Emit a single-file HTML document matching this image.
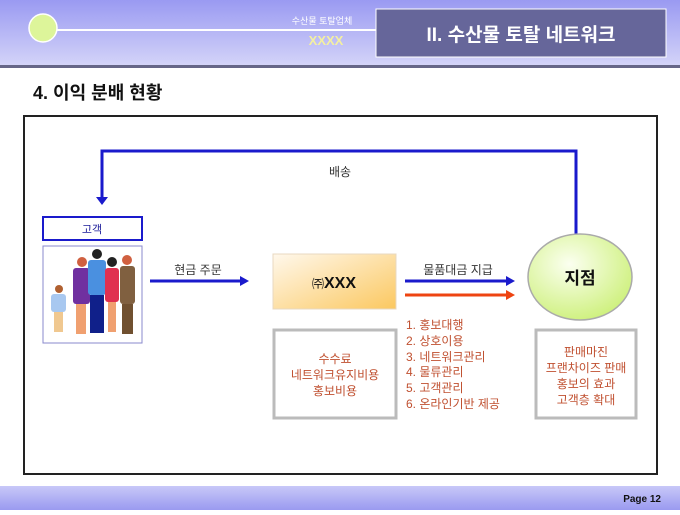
<!DOCTYPE html>
<html><head><meta charset="utf-8"><style>
body{margin:0;width:680px;height:510px;overflow:hidden;background:#fff;font-family:"Liberation Sans","Noto Sans CJK KR",sans-serif;}
</style></head><body>
<svg width="680" height="510" xmlns="http://www.w3.org/2000/svg" font-family="Liberation Sans, Noto Sans CJK KR, sans-serif">
<defs>
<linearGradient id="hd" x1="0" y1="0" x2="0" y2="1"><stop offset="0" stop-color="#9a9af2"/><stop offset="1" stop-color="#d4d4f8"/></linearGradient>
<linearGradient id="ft" x1="0" y1="0" x2="0" y2="1"><stop offset="0" stop-color="#c8c8f8"/><stop offset="1" stop-color="#9a9af0"/></linearGradient>
<linearGradient id="bx" x1="0" y1="0" x2="1" y2="1"><stop offset="0" stop-color="#fff8ec"/><stop offset="1" stop-color="#fbc860"/></linearGradient>
<radialGradient id="el" cx="0.4" cy="0.35" r="0.7"><stop offset="0" stop-color="#fbfff0"/><stop offset="1" stop-color="#cdf07a"/></radialGradient>
</defs>
<rect x="0" y="0" width="680" height="66" fill="url(#hd)"/>
<rect x="0" y="65" width="680" height="3" fill="#666688"/>
<line x1="55" y1="30" x2="378" y2="30" stroke="#fff" stroke-width="2"/>
<circle cx="43" cy="28" r="14" fill="#ddf59a" stroke="#fff" stroke-width="1.5"/>
<text x="322" y="24" font-size="9" fill="#fff" text-anchor="middle">수산물 토탈업체</text>
<text x="326" y="45" font-size="13" fill="#f4f0a0" text-anchor="middle" font-weight="bold">XXXX</text>
<rect x="376" y="9" width="290" height="48" fill="#66669a" stroke="#fff" stroke-width="1"/>
<text x="521" y="41" font-size="19" fill="#fff" font-weight="bold" text-anchor="middle">II. 수산물 토탈 네트워크</text>
<text x="33" y="99" font-size="18" font-weight="bold" fill="#111">4. 이익 분배 현황</text>
<rect x="24" y="116" width="633" height="358" fill="none" stroke="#222" stroke-width="2"/>
<polyline points="102,200 102,151 576,151 576,234" fill="none" stroke="#1a1acc" stroke-width="3"/>
<polygon points="96,197 108,197 102,205" fill="#1a1acc"/>
<text x="340" y="176" font-size="12" text-anchor="middle" fill="#333">배송</text>
<rect x="43" y="217" width="99" height="23" fill="#fff" stroke="#1a1acc" stroke-width="2"/>
<text x="92" y="233" font-size="11" text-anchor="middle" fill="#1a1a99">고객</text>
<rect x="43" y="246" width="99" height="97" fill="#fff" stroke="#8888cc" stroke-width="1"/>
<g>
<circle cx="59" cy="289" r="4" fill="#b06030"/><rect x="51" y="294" width="15" height="18" rx="3" fill="#a8c8f0"/><rect x="54" y="312" width="9" height="20" fill="#f0c890"/>
<circle cx="82" cy="262" r="5" fill="#d06040"/><rect x="73" y="268" width="17" height="36" rx="3" fill="#7030a0"/><rect x="76" y="304" width="10" height="30" fill="#f0a070"/>
<circle cx="97" cy="254" r="5" fill="#222"/><rect x="88" y="260" width="18" height="35" rx="3" fill="#4a90e0"/><rect x="90" y="295" width="14" height="38" fill="#10208a"/>
<circle cx="112" cy="262" r="5" fill="#222"/><rect x="105" y="268" width="14" height="34" rx="3" fill="#e03050"/><rect x="108" y="302" width="8" height="30" fill="#f0a070"/>
<circle cx="127" cy="260" r="5" fill="#d06040"/><rect x="120" y="266" width="15" height="38" rx="3" fill="#806040"/><rect x="122" y="304" width="11" height="30" fill="#705030"/>
</g>
<text x="198" y="274" font-size="12" text-anchor="middle" fill="#333">현금 주문</text>
<line x1="150" y1="281" x2="242" y2="281" stroke="#1a1acc" stroke-width="3"/>
<polygon points="240,276 249,281 240,286" fill="#1a1acc"/>
<rect x="273" y="254" width="123" height="55" fill="url(#bx)" stroke="#e8d8c0"/>
<text x="334" y="288" font-size="16" text-anchor="middle" font-weight="bold" fill="#111"><tspan font-size="12" font-weight="normal">㈜</tspan>XXX</text>
<text x="458" y="274" font-size="12" text-anchor="middle" fill="#333">물품대금 지급</text>
<line x1="405" y1="281" x2="508" y2="281" stroke="#1a1acc" stroke-width="3"/>
<polygon points="506,276 515,281 506,286" fill="#1a1acc"/>
<line x1="405" y1="295" x2="508" y2="295" stroke="#ee4411" stroke-width="3"/>
<polygon points="506,290 515,295 506,300" fill="#ee4411"/>
<rect x="274" y="330" width="122" height="88" fill="#fff" stroke="#bbb" stroke-width="3"/>
<g font-size="12" text-anchor="middle" fill="#c05030">
<text x="335" y="363">수수료</text><text x="335" y="379">네트워크유지비용</text><text x="335" y="395">홍보비용</text>
</g>
<g font-size="12" fill="#c05030">
<text x="406" y="329">1. 홍보대행</text><text x="406" y="345">2. 상호이용</text><text x="406" y="361">3. 네트워크관리</text><text x="406" y="376">4. 물류관리</text><text x="406" y="392">5. 고객관리</text><text x="406" y="408">6. 온라인기반 제공</text>
</g>
<ellipse cx="580" cy="277" rx="52" ry="43" fill="url(#el)" stroke="#aaa" stroke-width="1.5"/>
<text x="580" y="284" font-size="17" font-weight="bold" text-anchor="middle" fill="#111">지점</text>
<rect x="536" y="330" width="100" height="88" fill="#fff" stroke="#bbb" stroke-width="3"/>
<g font-size="12" text-anchor="middle" fill="#c05030">
<text x="586" y="356">판매마진</text><text x="586" y="372">프랜차이즈 판매</text><text x="586" y="388">홍보의 효과</text><text x="586" y="404">고객층 확대</text>
</g>
<rect x="0" y="486" width="680" height="24" fill="url(#ft)"/>
<text x="661" y="502" font-size="10" font-weight="bold" text-anchor="end" fill="#111">Page 12</text>
</svg>
</body></html>
